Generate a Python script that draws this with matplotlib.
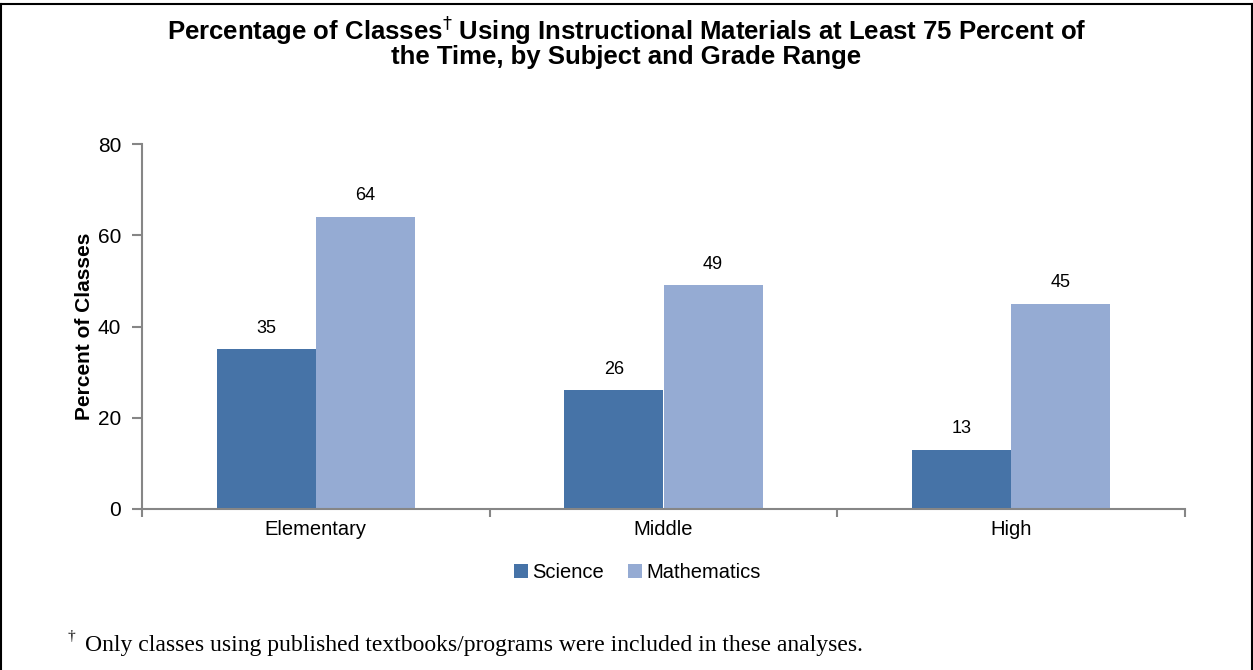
import matplotlib.pyplot as plt
import numpy as np
from matplotlib.lines import Line2D

grades = ['Elementary', 'Middle', 'High']
science = [35, 26, 13]
mathematics = [64, 49, 45]
series_names = ['Science', 'Mathematics']
y_ticks = [0, 20, 40, 60, 80]

plt.rcParams['font.family'] = ['Liberation Sans', 'DejaVu Sans']

sci_color = '#4673A7'
math_color = '#95ABD3'
axis_color = '#868686'
serif = ['Liberation Serif', 'DejaVu Serif']

fig = plt.figure(figsize=(12.53, 6.7), dpi=100)
ax = fig.add_axes([142 / 1253, 1 - 509 / 670, (1185 - 142) / 1253, (509 - 144) / 670])

x = np.arange(len(grades))
w = 0.285
b1 = ax.bar(x - w / 2, science, w, color=sci_color, label=series_names[0])
b2 = ax.bar(x + w / 2, mathematics, w, color=math_color, label=series_names[1])

for bars in (b1, b2):
    for rect in bars:
        h = rect.get_height()
        ax.annotate('%d' % h, (rect.get_x() + rect.get_width() / 2, h),
                    xytext=(0, 9), textcoords='offset points',
                    ha='center', va='bottom', fontsize=13)

ax.set_xlim(-0.5, len(grades) - 0.5)
ax.set_ylim(0, 80)
ax.set_yticks(y_ticks)
ax.set_yticklabels([str(t) for t in y_ticks], fontsize=15)
ax.set_xticks(x)
ax.set_xticklabels(grades, fontsize=14.5)
ax.set_xticks(np.arange(len(grades) + 1) - 0.5, minor=True)
ax.tick_params(axis='x', which='major', length=0, pad=8)
ax.tick_params(axis='x', which='minor', length=6, color=axis_color, width=1.5)
ax.tick_params(axis='y', length=7, color=axis_color, width=1.5, pad=8)
for s in ['top', 'right']:
    ax.spines[s].set_visible(False)
for s in ['left', 'bottom']:
    ax.spines[s].set_color(axis_color)
    ax.spines[s].set_linewidth(1.5)
ax.set_ylabel('Percent of Classes', fontsize=15, fontweight='bold', labelpad=3)

ax.legend(loc='upper center', bbox_to_anchor=(0.475, -0.098), ncol=2, frameon=False,
          fontsize=14.5, handlelength=0.7, handleheight=0.7, handletextpad=0.2,
          columnspacing=1.2)

fig.text(0.5, 1 - 30 / 670, 'Percentage of Classes$^{\\dagger}$ Using Instructional Materials at Least 75 Percent of',
         ha='center', va='center', fontsize=18.5, fontweight='bold')
fig.text(0.5, 1 - 57 / 670, 'the Time, by Subject and Grade Range',
         ha='center', va='center', fontsize=18.5, fontweight='bold')

fig.text(68 / 1253, 1 - 636 / 670, '\u2020', ha='left', va='center', fontsize=11, family=serif)
fig.text(85 / 1253, 1 - 645 / 670,
         'Only classes using published textbooks/programs were included in these analyses.',
         ha='left', va='center', fontsize=17, family=serif)

# frame around the figure
fig.add_artist(Line2D([1 / 1253, 1 / 1253], [0, 1 - 4 / 670], color='black', lw=1.5, transform=fig.transFigure))
fig.add_artist(Line2D([1 / 1253, 1252 / 1253], [1 - 4 / 670, 1 - 4 / 670], color='black', lw=1.5, transform=fig.transFigure))
fig.add_artist(Line2D([1252 / 1253, 1252 / 1253], [0, 1 - 4 / 670], color='black', lw=1.5, transform=fig.transFigure))

fig.savefig('out.png', dpi=100)
